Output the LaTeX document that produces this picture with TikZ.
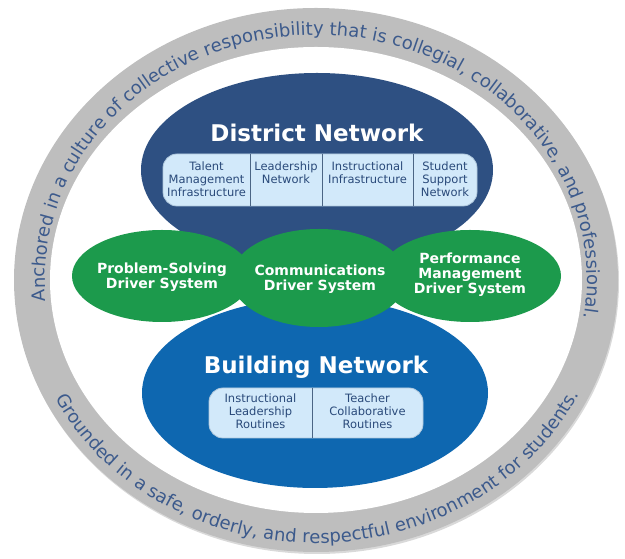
\documentclass[tikz,border=0pt]{standalone}
\usepackage{fontspec}
\setmainfont{DejaVu Sans}
\usetikzlibrary{shapes.geometric,decorations.text,shadows}
\definecolor{ringgray}{HTML}{BEBEBE}
\definecolor{ringtext}{HTML}{3C5A8C}
\definecolor{districtblue}{HTML}{2E5082}
\definecolor{buildingblue}{HTML}{0E67B0}
\definecolor{drivergreen}{HTML}{1C9A4C}
\definecolor{cellfill}{HTML}{D2E9FA}
\definecolor{celltext}{HTML}{2A4A7A}
\definecolor{cellline}{HTML}{4B6584}

\begin{document}
\begin{tikzpicture}[x=1pt, y=1pt,
    blob/.style={ellipse, inner sep=0pt, outer sep=0pt},
    driver/.style={text=white, align=center, font=\fontsize{14}{15}\selectfont\bfseries},
    heading/.style={text=white, font=\fontsize{23}{27}\selectfont\bfseries},
    panel/.style={rounded corners=14pt, fill=cellfill, draw=cellfill!75!cellline, line width=0.8pt, inner sep=0pt},
    cell/.style={anchor=north, inner sep=0pt, align=center, text=celltext, font=\fontsize{11.5}{13}\selectfont},
    ringline/.style={decorate, decoration={text along path, text align=center, text={#1}}}]
                        \useasboundingbox (0,0) rectangle (625,559);
                        \coordinate (c) at (316,279);

                        \fill[ringgray, drop shadow={opacity=0.3, shadow xshift=1pt, shadow yshift=-2pt}] (c) ellipse [x radius=302, y radius=272];
                        \fill[white] (c) ellipse [x radius=266, y radius=233];

                        \path[ringline={|\color{ringtext}\fontsize{18}{18}\selectfont|Anchored in a culture of collective responsibility that is collegial, collaborative, and professional.}]
                            ([shift={(200:271 and 245)}]c) arc [start angle=200, end angle=-24, x radius=271, y radius=245];
                        \path[ringline={|\color{ringtext}\fontsize{18}{18}\selectfont|Grounded in a safe, orderly, and respectful environment for students.}]
                            ([shift={(190:292 and 263)}]c) arc [start angle=190, end angle=351, x radius=292, y radius=263];

                        \node[blob, fill=districtblue, minimum width=352, minimum height=194] (district) at (317,389) {};
                        \node[blob, fill=buildingblue, minimum width=346, minimum height=190] (building) at (315,166) {};

                        \foreach \n/\x/\y/\w/\h in {problem/162/283/180/92, comms/319/281/176/98, perf/470/283/182/92} {
                            \node[blob, fill=drivergreen, minimum width=\w, minimum height=\h] (\n) at (\x,\y) {};
                        }
                        \node[driver] (problemlbl) at (162,282) {Problem-Solving\\Driver System};
                        \node[driver] (commslbl) at (320,280) {Communications\\Driver System};
                        \node[driver] (perflbl) at (470,284) {Performance\\Management\\Driver System};

                        \node[heading] (districtlbl) at (317,426) {District Network};
                        \node[panel, minimum width=314, minimum height=52] (dpanel) at (320,379) {};
                        \foreach \x in {250, 322, 413} {
                            \draw[cellline, line width=0.9pt] (\x,0 |- dpanel.north) -- (\x,0 |- dpanel.south);
                        }
                        \foreach \x/\t [count=\i] in {206.5/{Talent\\Management\\Infrastructure}, 286/{Leadership\\Network}, 367.5/{Instructional\\Infrastructure}, 445/{Student\\Support\\Network}} {
                            \node[cell] (dcell\i) at (\x,397) {\t};
                        }

                        \node[heading] (buildinglbl) at (316,192) {Building Network};
                        \node[panel, minimum width=214, minimum height=50] (bpanel) at (316,146) {};
                        \draw[cellline, line width=0.9pt] (312,0 |- bpanel.north) -- (312,0 |- bpanel.south);
                        \foreach \x/\t [count=\i] in {260.5/{Instructional\\Leadership\\Routines}, 367.5/{Teacher\\Collaborative\\Routines}} {
                            \node[cell] (bcell\i) at (\x,165) {\t};
                        }
                    \end{tikzpicture}
\end{document}
